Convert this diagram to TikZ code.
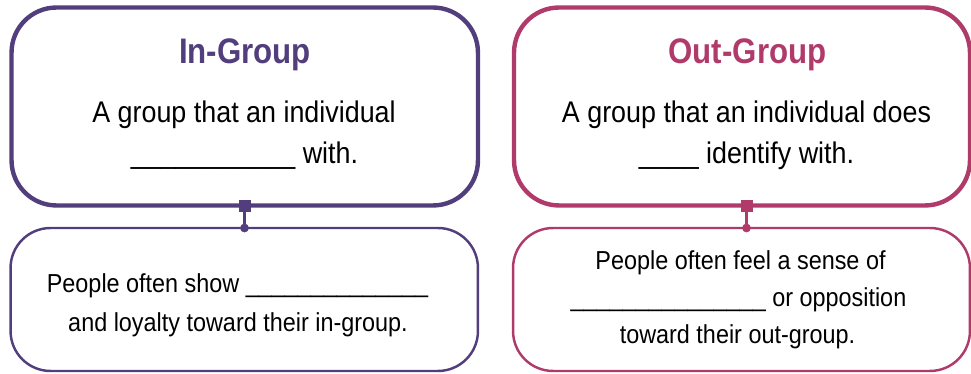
\documentclass[tikz,border=0pt]{standalone}
\usepackage{fontspec}
\setmainfont{Liberation Sans}[FakeStretch=0.9]
\newfontfamily\headfont{Liberation Sans}[FakeStretch=0.88]
\definecolor{ingrp}{HTML}{523E7C}
\definecolor{outgrp}{HTML}{B03B6B}
\tikzset{
  topbox/.style={draw, line width=2.5pt, rounded corners=0.9cm, minimum height=3.96cm, inner sep=0pt},
  botbox/.style={draw, line width=1.4pt, rounded corners=0.8cm, minimum height=2.86cm, inner sep=0pt},
  head/.style={anchor=base, inner sep=0pt, font=\headfont\bfseries\fontsize{20.2}{24}\selectfont},
  body/.style={anchor=base, inner sep=0pt, font=\fontsize{17}{20}\selectfont},
  small/.style={anchor=base, inner sep=0pt, font=\fontsize{14.8}{17}\selectfont},
  knot/.style={draw, fill, rectangle, minimum size=0.22cm, inner sep=0pt},
  pin/.style={draw, fill, circle, minimum size=0.16cm, inner sep=0pt}
}
\begin{document}
\begin{tikzpicture}[x=0.02cm,y=-0.02cm]
\useasboundingbox (0,0) rectangle (971,374);
% boxes
\node[topbox, ingrp, minimum width=9.33cm] (intop) at (244.75,106.5) {};
\node[botbox, ingrp, minimum width=9.35cm] (inbot) at (244.25,299.5) {};
\node[topbox, outgrp, minimum width=9.12cm] (outtop) at (742,106.5) {};
\node[botbox, outgrp, minimum width=9.14cm] (outbot) at (741.5,299.5) {};
% in-group text
\node[head, ingrp] (inhead) at (245,64) {In-Group};
\node[body] (indefa) at (244,123) {A group that an individual};
\node[body] (indefb) at (244.5,164) {\_\_\_\_\_\_\_\_\_\_\_ with.};
\node[small] (innotea) at (237.5,293) {People often show \_\_\_\_\_\_\_\_\_\_\_\_\_\_};
\node[small] (innoteb) at (238,332) {and loyalty toward their in-group.};
% out-group text
\node[head, outgrp] (outhead) at (747.5,64) {Out-Group};
\node[body] (outdefa) at (746.5,123) {A group that an individual does};
\node[body] (outdefb) at (746.5,164) {\_\_\_\_ identify with.};
\node[small] (outnotea) at (740.5,270) {People often feel a sense of};
\node[small] (outnoteb) at (738.5,307) {\_\_\_\_\_\_\_\_\_\_\_\_\_\_\_ or opposition};
\node[small] (outnotec) at (737.5,344) {toward their out-group.};
% connectors
\node[knot, ingrp] (sqin) at (244.5,205.5) {};
\node[pin, ingrp] (dotin) at (244.5,228) {};
\node[knot, outgrp] (sqout) at (746.5,205.5) {};
\node[pin, outgrp] (dotout) at (746.5,228) {};
\foreach \n/\c in {in/ingrp,out/outgrp}
  \draw[\c, line width=1.2pt] (sq\n) -- (dot\n);
\end{tikzpicture}
\end{document}
